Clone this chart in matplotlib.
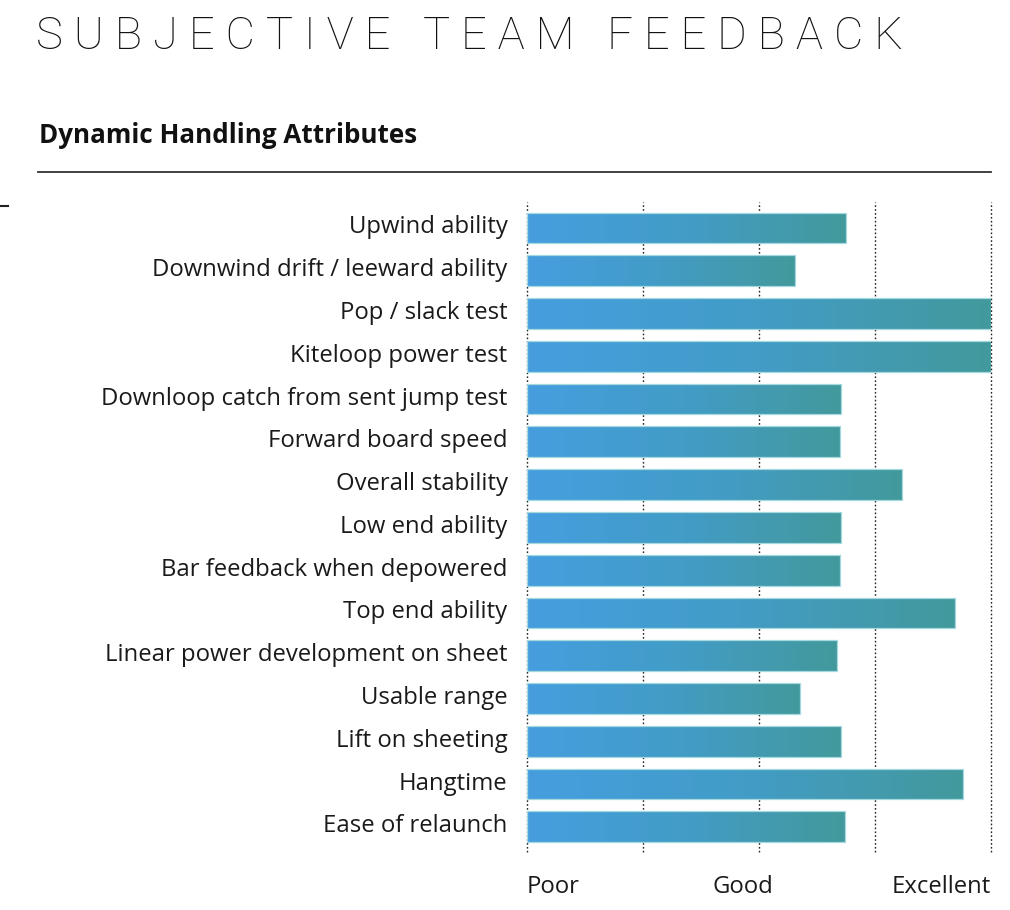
import matplotlib
matplotlib.use("Agg")
import matplotlib.pyplot as plt
import matplotlib.transforms as mtransforms
import numpy as np
from matplotlib.colors import LinearSegmentedColormap
from matplotlib.lines import Line2D

categories = [
    "Upwind ability",
    "Downwind drift / leeward ability",
    "Pop / slack test",
    "Kiteloop power test",
    "Downloop catch from sent jump test",
    "Forward board speed",
    "Overall stability",
    "Low end ability",
    "Bar feedback when depowered",
    "Top end ability",
    "Linear power development on sheet",
    "Usable range",
    "Lift on sheeting",
    "Hangtime",
    "Ease of relaunch",
]
values = [2.75, 2.31, 4.0, 4.0, 2.71, 2.70, 3.23, 2.71, 2.70, 3.69, 2.67, 2.35, 2.71, 3.76, 2.74]
scale_labels = ["Poor", "Good", "Excellent"]
scale_pos = [0.0, 1.86, 4.0]

LABEL_FONT = "Open Sans"

fig = plt.figure(figsize=(10.1, 9.1), dpi=100)
ax = fig.add_axes([0.5218, 0.0632, 0.4594, 0.7145])

cmap = LinearSegmentedColormap.from_list("g", ["#469EDF", "#429CC6", "#43999C"])
grad = np.linspace(0, 1, 256).reshape(1, -1)

y = np.arange(len(categories))
h = 0.72
bars = ax.barh(y, values, height=h, color="none", edgecolor="#a6d8e0", linewidth=0.9, zorder=3)
for b, v in zip(bars, values):
    x0, y0 = b.get_x(), b.get_y()
    im = ax.imshow(grad, extent=[x0, x0 + b.get_width(), y0, y0 + b.get_height()],
                   cmap=cmap, aspect="auto", zorder=2, interpolation="bilinear")
    im.set_clip_path(b)

ax.set_xlim(0, 4)
ax.set_ylim(len(categories) - 0.4, -0.6)
ax.set_xticks([0, 1, 2, 3, 4])
ax.set_xticklabels([])
ax.tick_params(axis="x", length=0)
ax.grid(axis="x", color="#222222", linestyle=(0, (1.2, 1.6)), linewidth=1.0, zorder=1)
for gl in ax.get_xgridlines():
    gl.set_clip_on(False)
ax.set_axisbelow(True)
ax.set_yticks(y)
ax.set_yticklabels(categories, fontsize=17.2, family=LABEL_FONT, color="#1a1a1a")
ax.tick_params(axis="y", length=0, pad=14)
shift = mtransforms.ScaledTranslation(0, 0.035, fig.dpi_scale_trans)
for t in ax.get_yticklabels():
    t.set_transform(t.get_transform() + shift)
for s in ax.spines.values():
    s.set_visible(False)

btrans = mtransforms.blended_transform_factory(ax.transData, fig.transFigure)
for lab, p, ha in zip(scale_labels, scale_pos, ["left", "center", "right"]):
    ax.text(p, 1 - 893 / 910, lab, transform=btrans,
            ha=ha, va="baseline", fontsize=17.2, family=LABEL_FONT, color="#1a1a1a")

fig.text(0.036, 1 - 49 / 910, "S U B J E C T I V E   T E A M   F E E D B A C K", fontsize=32.7,
         family="Roboto", fontweight="light", color="#111111", va="baseline", ha="left")
fig.text(0.039, 1 - 143 / 910, "Dynamic Handling Attributes", fontsize=18.7, family=LABEL_FONT,
         fontweight="bold", color="#111111", va="baseline", ha="left")
fig.add_artist(Line2D([0.038, 0.981], [1 - 172 / 910, 1 - 172 / 910], color="#333333", linewidth=1.3))
fig.add_artist(Line2D([0.0, 0.008], [1 - 206 / 910, 1 - 206 / 910], color="#222222", linewidth=1.5))

fig.savefig("out.png", dpi=100)
